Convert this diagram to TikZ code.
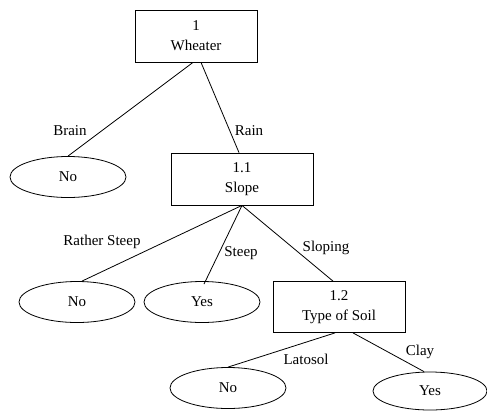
\documentclass[tikz,border=0pt]{standalone}
\usepackage{fontspec}
\setmainfont{Liberation Serif}
\usetikzlibrary{shapes.geometric}
\tikzset{
  test/.style={draw,line width=0.8pt,minimum height=52pt,align=center,inner sep=2pt},
  leaf/.style={draw,ellipse,line width=0.8pt,minimum width=116pt,minimum height=41pt,inner sep=0pt},
  branch/.style={line width=0.8pt},
  lbl/.style={inner sep=0pt}
}
\begin{document}
\begin{tikzpicture}[x=1pt,y=-1pt,font=\fontsize{15}{20}\selectfont]
\useasboundingbox (0,0) rectangle (487,410);
\node[test,minimum width=122pt] (wheater) at (196,36) {1\\Wheater};
\node[leaf] (no1) at (68,177) {No};
\node[test,minimum width=142pt] (slope) at (242,179) {1.1\\Slope};
\draw[branch] ([xshift=-3pt]wheater.south) -- (no1.north) ;
\draw[branch] ([xshift=5pt]wheater.south) -- ([xshift=-3pt]slope.north) ;
\node[lbl] (brain) at (70,131) {Brain};
\node[lbl] (rain) at (249,131) {Rain};
% second level
\node[leaf] (no2) at (77,302) {No};
\node[leaf] (yes2) at (202,302) {Yes};
\node[test,minimum width=132pt,minimum height=51pt] (soil) at (339,307) {1.2\\Type of Soil};
\draw[branch] (slope.south) -- ([xshift=5pt]no2.north) ;
\draw[branch] (slope.south) -- ([xshift=2pt,yshift=-3pt]yes2.north) ;
\draw[branch] (slope.south) -- ([xshift=-6pt]soil.north) ;
\node[lbl] (rather) at (102,242) {Rather Steep};
\node[lbl] (steep) at (241,253) {Steep};
\node[lbl] (sloping) at (326,248) {Sloping};
% third level
\node[leaf] (no3) at (228,388) {No};
\node[leaf,minimum width=114pt,minimum height=38pt] (yes3) at (430,391) {Yes};
\draw[branch] ([xshift=-4pt]soil.south) -- (no3.north) ;
\draw[branch] ([xshift=14pt]soil.south) -- ([xshift=-6pt]yes3.north) ;
\node[lbl] (latosol) at (306,359) {Latosol};
\node[lbl] (clay) at (420,352) {Clay};
\end{tikzpicture}
\end{document}
